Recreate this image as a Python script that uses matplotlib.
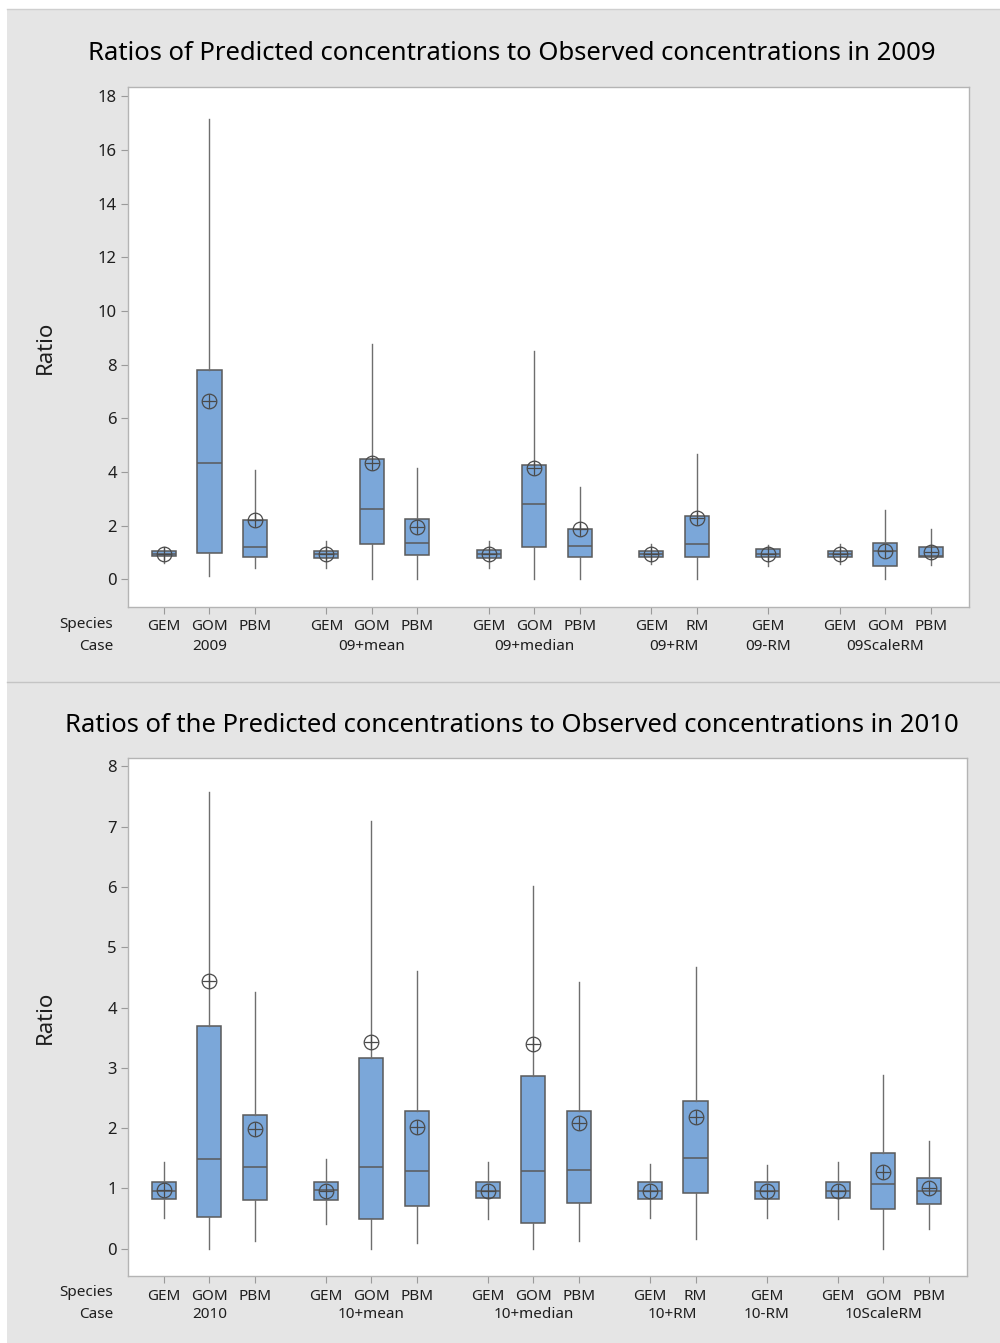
import matplotlib
matplotlib.use("Agg")
import matplotlib.pyplot as plt
from matplotlib.patches import Rectangle
from matplotlib.lines import Line2D

plt.rcParams['font.family'] = ['Noto Sans', 'DejaVu Sans']

# ---- data: one entry per box (lower whisker, Q1, median, Q3, upper whisker, mean)
cases_09 = ["2009", "09+mean", "09+median", "09+RM", "09-RM", "09ScaleRM"]
species_09 = [["GEM", "GOM", "PBM"], ["GEM", "GOM", "PBM"], ["GEM", "GOM", "PBM"],
              ["GEM", "RM"], ["GEM"], ["GEM", "GOM", "PBM"]]
lo_09 = [0.60, 0.12, 0.44, 0.44, 0.00, 0.00, 0.44, 0.00, 0.00, 0.57, 0.00, 0.50, 0.57, 0.00, 0.54]
q1_09 = [0.88, 0.97, 0.85, 0.78, 1.32, 0.92, 0.78, 1.19, 0.85, 0.85, 0.85, 0.85, 0.85, 0.50, 0.82]
med_09 = [0.94, 4.34, 1.19, 0.93, 2.61, 1.37, 0.93, 2.79, 1.23, 0.96, 1.33, 0.96, 0.96, 1.04, 0.88]
q3_09 = [1.07, 7.80, 2.20, 1.07, 4.49, 2.24, 1.09, 4.25, 1.89, 1.07, 2.36, 1.12, 1.07, 1.34, 1.19]
hi_09 = [1.19, 17.13, 4.09, 1.41, 8.77, 4.15, 1.41, 8.49, 3.43, 1.32, 4.68, 1.28, 1.32, 2.60, 1.86]
mean_09 = [0.95, 6.66, 2.20, 0.94, 4.34, 1.95, 0.94, 4.15, 1.86, 0.96, 2.29, 0.96, 0.96, 1.04, 1.03]

cases_10 = ["2010", "10+mean", "10+median", "10+RM", "10-RM", "10ScaleRM"]
species_10 = species_09
lo_10 = [0.51, 0.00, 0.13, 0.41, 0.00, 0.10, 0.49, 0.00, 0.13, 0.51, 0.16, 0.51, 0.49, 0.00, 0.33]
q1_10 = [0.83, 0.53, 0.81, 0.81, 0.49, 0.71, 0.84, 0.43, 0.75, 0.83, 0.93, 0.83, 0.84, 0.66, 0.74]
med_10 = [0.96, 1.48, 1.36, 0.98, 1.36, 1.29, 0.96, 1.29, 1.31, 0.96, 1.51, 0.96, 0.96, 1.07, 0.95]
q3_10 = [1.10, 3.70, 2.22, 1.10, 3.17, 2.28, 1.10, 2.87, 2.28, 1.10, 2.45, 1.10, 1.10, 1.59, 1.17]
hi_10 = [1.43, 7.57, 4.26, 1.49, 7.10, 4.60, 1.44, 6.02, 4.43, 1.41, 4.67, 1.39, 1.44, 2.88, 1.79]
mean_10 = [0.97, 4.44, 1.98, 0.95, 3.42, 2.02, 0.96, 3.39, 2.08, 0.96, 2.19, 0.96, 0.96, 1.27, 1.00]

W, H = 1000, 1343
BOX_COLOR = "#7ba7d9"
EDGE = "#5a5a5a"
GREY_BG = "#e5e5e5"
TEXT = "#1e1e1e"


def fx(px):
    return px / W


def fy(py):
    return 1 - py / H


fig = plt.figure(figsize=(W / 100, H / 100), dpi=100)
fig.patch.set_facecolor("white")

# grey panels behind each chart
fig.patches.append(Rectangle((fx(7), fy(682)), fx(993), 673 / H, transform=fig.transFigure,
                             facecolor=GREY_BG, edgecolor="none", zorder=-10))
fig.patches.append(Rectangle((fx(7), 0), fx(993), fy(682), transform=fig.transFigure,
                             facecolor=GREY_BG, edgecolor="none", zorder=-10))
fig.lines.append(Line2D([fx(7), 1], [fy(9), fy(9)], transform=fig.transFigure, color="#cfcfcf", lw=1))
fig.lines.append(Line2D([fx(7), 1], [fy(682), fy(682)], transform=fig.transFigure, color="#c4c4c4", lw=1))


def draw_panel(rect, title, title_y, cases, species, lo, q1, med, q3, hi, mean, ylim, yticks):
    ax = fig.add_axes(rect)
    ax.set_facecolor("white")

    # box positions: extra gap between cases
    positions = []
    flat_species = []
    centers = []
    k = 0
    for g, sp in enumerate(species):
        grp = []
        for s in sp:
            grp.append(k + g * 0.57)
            flat_species.append(s)
            k += 1
        positions += grp
        centers.append(sum(grp) / len(grp))

    stats = []
    for i in range(len(positions)):
        stats.append(dict(whislo=lo[i], q1=q1[i], med=med[i], q3=q3[i], whishi=hi[i],
                          mean=mean[i], fliers=[]))

    ax.bxp(stats, positions=positions, widths=0.53, patch_artist=True, showcaps=False,
           showfliers=False, showmeans=False,
           boxprops=dict(facecolor=BOX_COLOR, edgecolor=EDGE, linewidth=1.1),
           medianprops=dict(color=EDGE, linewidth=1.1),
           whiskerprops=dict(color="#6e6e6e", linewidth=1.0))

    # mean symbol: circle with cross
    ax.plot(positions, mean, linestyle="none", marker="o", markersize=10.5,
            markerfacecolor="none", markeredgecolor="#4a4a4a", markeredgewidth=0.9, zorder=5)
    ax.plot(positions, mean, linestyle="none", marker="+", markersize=10.5,
            markeredgecolor="#4a4a4a", markeredgewidth=0.9, zorder=5)

    ax.set_xlim(-0.79, 17.69)
    ax.set_ylim(*ylim)
    ax.set_yticks(yticks)
    ax.set_xticks(positions)
    ax.set_xticklabels(flat_species, fontsize=11, color=TEXT)
    ax.tick_params(axis="y", direction="out", length=5, color="#9a9a9a", labelsize=12,
                   labelcolor=TEXT, pad=3)
    ax.tick_params(axis="x", direction="out", length=5, color="#9a9a9a", pad=4)
    for sp in ax.spines.values():
        sp.set_color("#b4b4b4")
        sp.set_linewidth(1.0)

    for c, name in zip(centers, cases):
        ax.annotate(name, xy=(c, 0), xycoords=("data", "axes fraction"),
                    xytext=(0, -39), textcoords="offset pixels", ha="center", va="center",
                    fontsize=11, color=TEXT)
    ax.annotate("Species", xy=(0, 0), xycoords="axes fraction", xytext=(-15, -17),
                textcoords="offset pixels", ha="right", va="center", fontsize=11, color=TEXT)
    ax.annotate("Case", xy=(0, 0), xycoords="axes fraction", xytext=(-15, -39),
                textcoords="offset pixels", ha="right", va="center", fontsize=11, color=TEXT)

    fig.text(0.512, title_y, title, ha="center", va="center", fontsize=18.5, color="black")
    return ax


top = draw_panel([fx(128), fy(607), fx(841), 520 / H],
                 "Ratios of Predicted concentrations to Observed concentrations in 2009", fy(54),
                 cases_09, species_09, lo_09, q1_09, med_09, q3_09, hi_09, mean_09,
                 (-1.03, 18.34), range(0, 19, 2))
bottom = draw_panel([fx(128), fy(1276), fx(839), 518 / H],
                    "Ratios of the Predicted concentrations to Observed concentrations in 2010", fy(726),
                    cases_10, species_10, lo_10, q1_10, med_10, q3_10, hi_10, mean_10,
                    (-0.455, 8.14), range(0, 9))

fig.text(fx(45), fy(347), "Ratio", rotation=90, ha="center", va="center", fontsize=16, color=TEXT)
fig.text(fx(45), fy(1017), "Ratio", rotation=90, ha="center", va="center", fontsize=16, color=TEXT)

fig.savefig("out.png", dpi=100)
